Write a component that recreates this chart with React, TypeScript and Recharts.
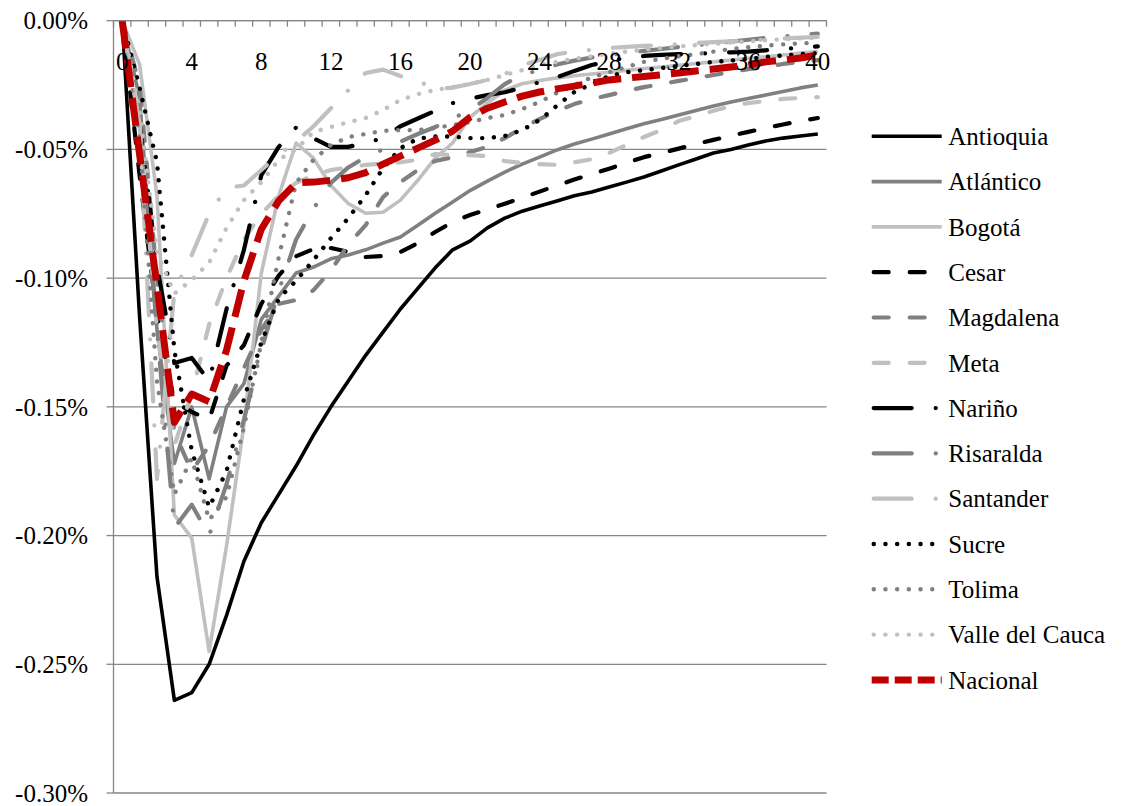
import { LineChart, Line, XAxis, YAxis, CartesianGrid } from "recharts";

const periods = [
  0, 1, 2, 3, 4, 5, 6, 7, 8, 9, 10, 11, 12, 13, 14, 15, 16, 17, 18, 19, 20,
  21, 22, 23, 24, 25, 26, 27, 28, 29, 30, 31, 32, 33, 34, 35, 36, 37, 38, 39, 40,
];
const xLabels = [0, 4, 8, 12, 16, 20, 24, 28, 32, 36, 40];
const yTicks = [0, -0.05, -0.1, -0.15, -0.2, -0.25, -0.3];

// valores en puntos porcentuales
const antioquia = [0, -0.115, -0.216, -0.264, -0.261, -0.25, -0.231, -0.21, -0.195, -0.184, -0.173, -0.161, -0.15, -0.14, -0.13, -0.121, -0.112, -0.104, -0.096, -0.089, -0.0856, -0.0805, -0.0767, -0.074, -0.072, -0.07, -0.068, -0.0665, -0.0646, -0.0627, -0.0607, -0.0584, -0.056, -0.0537, -0.0514, -0.05, -0.0483, -0.0467, -0.0456, -0.0448, -0.044];
const atlantico = [0, -0.03, -0.12, -0.172, -0.15, -0.178, -0.15, -0.141, -0.116, -0.107, -0.098, -0.0957, -0.0925, -0.091, -0.089, -0.0864, -0.084, -0.0795, -0.0748, -0.0704, -0.066, -0.0623, -0.0588, -0.0557, -0.053, -0.0502, -0.0479, -0.046, -0.044, -0.042, -0.04, -0.0384, -0.0366, -0.0349, -0.0331, -0.0316, -0.0302, -0.0289, -0.0275, -0.0261, -0.025];
const bogota = [0, -0.017, -0.068, -0.192, -0.201, -0.245, -0.204, -0.157, -0.098, -0.068, -0.0475, -0.0534, -0.064, -0.071, -0.0748, -0.0744, -0.0697, -0.062, -0.0534, -0.0475, -0.0375, -0.032, -0.027, -0.0245, -0.0232, -0.0222, -0.0214, -0.0207, -0.02, -0.0193, -0.0186, -0.018, -0.0173, -0.0166, -0.016, -0.0153, -0.0146, -0.014, -0.0133, -0.0126, -0.012];
const cesar = [0, -0.06, -0.115, -0.148, -0.152, -0.155, -0.134, -0.126, -0.11, -0.099, -0.0915, -0.0887, -0.0883, -0.0898, -0.0918, -0.0914, -0.0898, -0.0864, -0.0821, -0.0782, -0.0755, -0.0733, -0.0711, -0.0688, -0.0664, -0.064, -0.0617, -0.0596, -0.0575, -0.0552, -0.053, -0.0514, -0.0497, -0.0479, -0.0463, -0.0447, -0.0432, -0.0417, -0.0403, -0.039, -0.0378];
const magdalena = [0, -0.025, -0.1, -0.16, -0.175, -0.165, -0.15, -0.135, -0.12, -0.11, -0.1085, -0.1047, -0.097, -0.087, -0.0794, -0.0685, -0.0627, -0.058, -0.0545, -0.053, -0.051, -0.049, -0.0456, -0.0417, -0.0382, -0.035, -0.0324, -0.0304, -0.0289, -0.0273, -0.0258, -0.0246, -0.0234, -0.0223, -0.0211, -0.02, -0.0188, -0.018, -0.0168, -0.016, -0.0153];
const meta = [0, -0.04, -0.12, -0.165, -0.145, -0.118, -0.1, -0.085, -0.075, -0.068, -0.063, -0.06, -0.058, -0.057, -0.056, -0.0555, -0.055, -0.054, -0.0518, -0.0522, -0.0522, -0.0526, -0.0545, -0.0553, -0.0557, -0.056, -0.055, -0.0538, -0.0514, -0.0483, -0.0452, -0.0425, -0.039, -0.037, -0.035, -0.0332, -0.032, -0.0312, -0.0304, -0.03, -0.0297];
const narino = [0, -0.04, -0.095, -0.133, -0.131, -0.14, -0.112, -0.089, -0.06, -0.049, -0.0415, -0.0457, -0.049, -0.049, -0.0475, -0.0456, -0.041, -0.038, -0.035, -0.032, -0.0303, -0.0289, -0.0278, -0.026, -0.0238, -0.022, -0.0195, -0.0172, -0.0157, -0.0143, -0.0137, -0.0133, -0.013, -0.0128, -0.0126, -0.0123, -0.012, -0.0115, -0.011, -0.0105, -0.01];
const risaralda = [0, -0.04, -0.12, -0.197, -0.188, -0.2, -0.18, -0.155, -0.128, -0.105, -0.085, -0.073, -0.063, -0.057, -0.053, -0.05, -0.047, -0.044, -0.0413, -0.038, -0.0347, -0.03, -0.0246, -0.021, -0.0192, -0.017, -0.0155, -0.0143, -0.0133, -0.0125, -0.0117, -0.011, -0.0102, -0.0095, -0.0088, -0.0081, -0.0074, -0.0067, -0.0061, -0.0055, -0.005];
const santander = [0, -0.04, -0.178, -0.105, -0.091, -0.075, -0.065, -0.064, -0.058, -0.052, -0.047, -0.041, -0.034, -0.027, -0.0203, -0.019, -0.0215, -0.0234, -0.0265, -0.026, -0.0246, -0.023, -0.0207, -0.0172, -0.0153, -0.013, -0.012, -0.0113, -0.0106, -0.0102, -0.0098, -0.0095, -0.0091, -0.0087, -0.0083, -0.008, -0.0077, -0.0073, -0.0069, -0.0066, -0.0063];
const sucre = [0, -0.026, -0.055, -0.128, -0.167, -0.189, -0.175, -0.147, -0.125, -0.108, -0.101, -0.093, -0.0845, -0.0767, -0.0678, -0.0573, -0.0495, -0.0458, -0.045, -0.045, -0.0456, -0.0456, -0.0448, -0.0425, -0.0386, -0.033, -0.0277, -0.0246, -0.0215, -0.02, -0.0192, -0.0184, -0.0176, -0.0168, -0.016, -0.0155, -0.0149, -0.0141, -0.0135, -0.013, -0.0126];
const tolima = [0, -0.045, -0.14, -0.184, -0.17, -0.194, -0.185, -0.158, -0.125, -0.092, -0.063, -0.054, -0.0483, -0.0452, -0.044, -0.0428, -0.0425, -0.0425, -0.0417, -0.0405, -0.0394, -0.0378, -0.0366, -0.0343, -0.0316, -0.028, -0.025, -0.022, -0.02, -0.018, -0.016, -0.0148, -0.0138, -0.013, -0.012, -0.011, -0.0103, -0.0097, -0.0092, -0.0088, -0.0085];
const valle = [0, -0.035, -0.09, -0.106, -0.1007, -0.094, -0.0805, -0.0697, -0.0627, -0.054, -0.05, -0.0432, -0.0413, -0.0394, -0.0378, -0.0347, -0.0308, -0.0285, -0.0269, -0.0258, -0.0246, -0.023, -0.0211, -0.0192, -0.0172, -0.016, -0.0148, -0.0138, -0.0128, -0.012, -0.0113, -0.0106, -0.01, -0.0095, -0.009, -0.0085, -0.008, -0.0076, -0.0072, -0.0069, -0.0066];
const nacional = [0, -0.052, -0.103, -0.156, -0.145, -0.148, -0.128, -0.101, -0.081, -0.07, -0.063, -0.0627, -0.062, -0.061, -0.059, -0.0557, -0.0526, -0.0495, -0.0464, -0.0429, -0.0375, -0.034, -0.0316, -0.0293, -0.0277, -0.0265, -0.0254, -0.0242, -0.023, -0.0223, -0.0217, -0.021, -0.0203, -0.0195, -0.0188, -0.018, -0.0172, -0.016, -0.0153, -0.0145, -0.0133];

const BLACK = "#000000";
const GRAY = "#808080";
const LIGHT = "#c0c0c0";
const RED = "#c00000";
const AXIS = "#868686";
const FONT = "Liberation Serif, Times New Roman, serif";

const SOLID = { width: 3.6, dash: undefined, cap: "butt" };
const DASH = { width: 4.2, dash: "15 21", cap: "round" };
const LONG_DASH_DOT = { width: 4.2, dash: "38 24 0.1 24", cap: "round" };
const DOTS = { width: 4.4, dash: "0.1 11.6", cap: "round" };
const NAC = { width: 7, dash: "28 11", cap: "butt" };

const series = [
  { name: "Antioquia", values: antioquia, color: BLACK, style: SOLID },
  { name: "Atlántico", values: atlantico, color: GRAY, style: SOLID },
  { name: "Bogotá", values: bogota, color: LIGHT, style: SOLID },
  { name: "Cesar", values: cesar, color: BLACK, style: DASH },
  { name: "Magdalena", values: magdalena, color: GRAY, style: DASH },
  { name: "Meta", values: meta, color: LIGHT, style: DASH },
  { name: "Nariño", values: narino, color: BLACK, style: LONG_DASH_DOT },
  { name: "Risaralda", values: risaralda, color: GRAY, style: LONG_DASH_DOT },
  { name: "Santander", values: santander, color: LIGHT, style: LONG_DASH_DOT },
  { name: "Sucre", values: sucre, color: BLACK, style: DOTS },
  { name: "Tolima", values: tolima, color: GRAY, style: DOTS },
  { name: "Valle del Cauca", values: valle, color: LIGHT, style: DOTS },
  { name: "Nacional", values: nacional, color: RED, style: NAC },
];

const rows = periods.map((p, i) => {
  const row: Record<string, number> = { period: p };
  series.forEach((s) => {
    row[s.name] = s.values[i];
  });
  return row;
});

// geometry (svg coords, page offset 8px)
const W = 1116;
const H = 798;
const PLOT_LEFT = 105.5;
const PLOT_TOP = 12.7;
const PLOT_W = 713;
const HALF = PLOT_W / periods.length / 2;

function PeriodTick(props: any) {
  const { x, payload, index } = props;
  const showLabel = xLabels.includes(payload.value);
  return (
    <g>
      <line x1={x - HALF} x2={x - HALF} y1={PLOT_TOP} y2={PLOT_TOP + 6} stroke={AXIS} strokeWidth={1.3} />
      {index === periods.length - 1 && (
        <line x1={x + HALF} x2={x + HALF} y1={PLOT_TOP} y2={PLOT_TOP + 6} stroke={AXIS} strokeWidth={1.3} />
      )}
      {showLabel && (
        <text x={x} y={PLOT_TOP + 49} textAnchor="middle" fill="#000" style={{ fontSize: 25, fontFamily: FONT }}>
          {payload.value}
        </text>
      )}
    </g>
  );
}

function PctTick(props: any) {
  const { x, y, payload } = props;
  return (
    <text x={x} y={y} dy="0.35em" textAnchor="end" fill="#000" style={{ fontSize: 25, fontFamily: FONT }}>
      {`${payload.value.toFixed(2)}%`}
    </text>
  );
}

function ChartLegend() {
  const x0 = 863.7;
  const x1 = 933.7;
  const top = 128.3;
  const step = 45.3;
  return (
    <svg width={W} height={H} style={{ position: "absolute", left: 0, top: 0, pointerEvents: "none" }}>
      {series.map((s, k) => {
        const y = top + k * step;
        const dash = s.name === "Nacional" ? "17 6" : s.style.dash;
        return (
          <g key={s.name}>
            <line
              x1={x0 + (s.style.cap === "round" ? 2 : 0)}
              x2={x1 - (s.style.cap === "round" ? 2 : 0)}
              y1={y}
              y2={y}
              stroke={s.color}
              strokeWidth={s.style.width}
              strokeDasharray={dash}
              strokeLinecap={s.style.cap as any}
            />
            <text x={x0 + 76.6} y={y} dy="0.35em" fill="#000" style={{ fontSize: 25, fontFamily: FONT }}>
              {s.name}
            </text>
          </g>
        );
      })}
    </svg>
  );
}

export default function App() {
  return (
    <div style={{ position: "relative", width: W, height: H }}>
      <LineChart
        width={W}
        height={H}
        data={rows}
        margin={{ top: PLOT_TOP - 1, right: W - PLOT_LEFT - PLOT_W, bottom: 13, left: 0 }}
      >
        <CartesianGrid vertical={false} stroke={AXIS} strokeWidth={1.3} />
        <XAxis
          dataKey="period"
          orientation="top"
          height={1}
          interval={0}
          tickLine={false}
          axisLine={{ stroke: AXIS, strokeWidth: 1.3 }}
          padding={{ left: HALF, right: HALF }}
          tick={(p: any) => <PeriodTick {...p} />}
        />
        <YAxis
          type="number"
          domain={[-0.3, 0]}
          ticks={yTicks}
          interval={0}
          allowDataOverflow
          width={PLOT_LEFT}
          tickSize={7}
          tickMargin={18.5}
          axisLine={{ stroke: AXIS, strokeWidth: 1.3 }}
          tickLine={{ stroke: AXIS, strokeWidth: 1.3 }}
          tick={(p: any) => <PctTick {...p} />}
        />
        {series.map((s) => (
          <Line
            key={s.name}
            type="linear"
            dataKey={s.name}
            stroke={s.color}
            strokeWidth={s.style.width}
            strokeDasharray={s.style.dash}
            strokeLinecap={s.style.cap as any}
            strokeLinejoin="round"
            dot={false}
            activeDot={false}
            isAnimationActive={false}
          />
        ))}
      </LineChart>
      <ChartLegend />
    </div>
  );
}
